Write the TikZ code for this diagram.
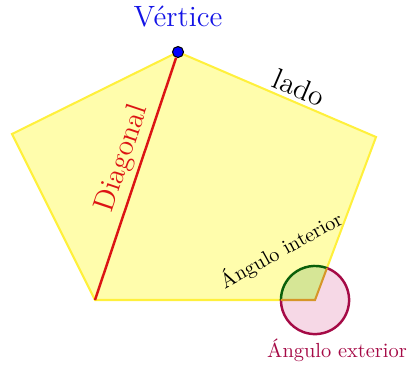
\documentclass[tikz,border=0pt]{standalone}
\usetikzlibrary{positioning}
\definecolor{jaune}{RGB}{255,240,60}
\definecolor{fondjaune}{RGB}{255,253,172}
\definecolor{rougediag}{RGB}{220,20,20}
\definecolor{bleusommet}{RGB}{20,20,230}
\definecolor{vertint}{RGB}{10,95,10}
\definecolor{fondvert}{RGB}{214,230,150}
\definecolor{grenat}{RGB}{165,10,70}
\definecolor{fondrose}{RGB}{246,216,230}
\definecolor{orangebord}{RGB}{214,150,40}
\begin{document}
\begin{tikzpicture}[x=0.49pt,y=0.49pt]
			% Styles
			\tikzstyle{polygone}=[draw=jaune,line width=1pt,fill=fondjaune,line join=miter]
			\tikzstyle{diag}=[-,rougediag,line width=1.2pt]
			\tikzstyle{sommet}=[circle,draw=black,fill=blue,inner sep=0pt,minimum size=5.4pt,line width=0.5pt]
			\tikzstyle{texte}=[inner sep=2pt]
			% Dimensions
			\def\Rayon{16.7pt}
			\def\AngleCote{69.5}
			% Cadre
			\useasboundingbox (0,0) rectangle (409,364);
			% Sommets
			\coordinate (A) at (178,312);
			\coordinate (B) at (376,227);
			\coordinate (C) at (315,64);
			\coordinate (D) at (95,64);
			\coordinate (E) at (12,230);
			% Polygone
			\draw[polygone] (A)--(B)--(C)--(D)--(E)--cycle;
			% Angles
			\fill[fondrose] (C)--++(\AngleCote:\Rayon) arc[start angle=\AngleCote,end angle=-180,radius=\Rayon]--cycle;
			\fill[fondvert] (C)--++(\AngleCote:\Rayon) arc[start angle=\AngleCote,end angle=180,radius=\Rayon]--cycle;
			\draw[grenat,line width=1.2pt] (C)++(\AngleCote:\Rayon) arc[start angle=\AngleCote,end angle=-180,radius=\Rayon];
			\draw[vertint,line width=1.2pt] (C)++(\AngleCote:\Rayon) arc[start angle=\AngleCote,end angle=180,radius=\Rayon];
			\draw[orangebord,line width=1pt,line join=miter] (C)++(\AngleCote:\Rayon)--(C)--++(180:\Rayon);
			% Noeuds
			\node[sommet] (S) at (A) {};
			\node[texte,bleusommet,above=7pt of S] (vertice) {\Large V\'ertice};
			\node[texte,rotate=29] (interieur) at (281,114) {\'Angulo interior};
			\node[texte,grenat] (exterieur) at (337,14) {\'Angulo exterior};
			% Arcs
			\draw[diag] (D)--(S) node[midway,sloped,above,texte,pos=0.56] (diagonale) {\Large Diagonal};
			\path (S)--(B) node[pos=0.57,sloped,above,texte] (lado) {\Large lado};
\end{tikzpicture}
\end{document}
